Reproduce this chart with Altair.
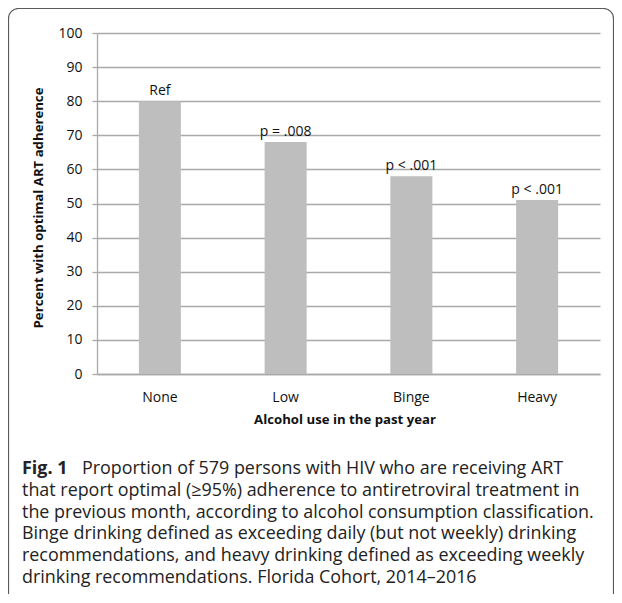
import altair as alt
import pandas as pd

# ---- data ----
categories = ["None", "Low", "Binge", "Heavy"]
percents = [80, 68, 58, 51]
p_labels = ["Ref", "p = .008", "p < .001", "p < .001"]
y_ticks = [0, 10, 20, 30, 40, 50, 60, 70, 80, 90, 100]

x_title = "Alcohol use in the past year"
y_title = "Percent with optimal ART adherence"
fig_label = "Fig. 1"
caption_first = "Proportion of 579 persons with HIV who are receiving ART"
caption_rest = [
    "that report optimal (\u226595%) adherence to antiretroviral treatment in",
    "the previous month, according to alcohol consumption classification.",
    "Binge drinking defined as exceeding daily (but not weekly) drinking",
    "recommendations, and heavy drinking defined as exceeding weekly",
    "drinking recommendations. Florida Cohort, 2014\u20132016",
]

df = pd.DataFrame({"cat": categories, "pct": percents, "lab": p_labels})

W, H = 503, 341
AX_FONT = "Open Sans"
CAP_FONT = "Open Sans"
CAP_SIZE = 17.9
LINE_H = 21.8
GRID = "#a9a9a9"

x_enc = alt.X(
    "cat:N", sort=categories,
    scale=alt.Scale(paddingInner=0.666, paddingOuter=0.333),
    axis=alt.Axis(
        title=x_title, labelAngle=0, ticks=False, tickSize=0, labelPadding=16,
        domainColor=GRID, domainWidth=1.3,
        labelFont=AX_FONT, labelFontSize=14, labelColor="#111111",
        titleFont=AX_FONT, titleFontSize=13.2, titleFontWeight="bold", titleColor="#111111",
        titleX=W / 2 - 4, titleY=45, titleBaseline="middle", titleAlign="center",
    ),
)
y_enc = alt.Y(
    "pct:Q",
    scale=alt.Scale(domain=[0, 100], nice=False),
    axis=alt.Axis(
        title=y_title, values=y_ticks, labelOverlap=False, grid=True, gridColor=GRID,
        gridWidth=1.3, domainColor=GRID, domainWidth=1.3, tickColor=GRID, tickWidth=1.3,
        tickSize=5, labelPadding=10, labelFont=AX_FONT, labelFontSize=14, labelColor="#111111",
        titleFont=AX_FONT, titleFontSize=13.2, titleFontWeight="bold", titleColor="#111111",
        titleAngle=-90, titleX=-59, titleY=H / 2 + 4, titleBaseline="middle", titleAlign="center",
    ),
)

bars = alt.Chart(df).mark_bar(color="#bebebf").encode(x=x_enc, y=y_enc)
labels = alt.Chart(df).mark_text(
    dy=-6, baseline="alphabetic", font=AX_FONT, fontSize=14, color="#111111"
).encode(x=x_enc, y=y_enc, text="lab:N")

frame = alt.Chart(pd.DataFrame({"k": [0]})).mark_rect(
    cornerRadius=10, fillOpacity=0, stroke="#5a5a5a", strokeWidth=1.2
).encode(
    x=alt.value(-88.5), x2=alt.value(516.5), y=alt.value(-24.5), y2=alt.value(620)
)

cap_x = -75
cap_y0 = 441
layers = [frame, bars, labels]
layers.append(
    alt.Chart(pd.DataFrame({"t": [fig_label]})).mark_text(
        align="left", baseline="alphabetic", font=CAP_FONT, fontSize=CAP_SIZE,
        fontWeight="bold", color="#222222"
    ).encode(text="t:N", x=alt.value(cap_x), y=alt.value(cap_y0))
)
layers.append(
    alt.Chart(pd.DataFrame({"t": [caption_first]})).mark_text(
        align="left", baseline="alphabetic", font=CAP_FONT, fontSize=CAP_SIZE,
        color="#222222"
    ).encode(text="t:N", x=alt.value(cap_x + 60), y=alt.value(cap_y0))
)
for i, line in enumerate(caption_rest):
    layers.append(
        alt.Chart(pd.DataFrame({"t": [line]})).mark_text(
            align="left", baseline="alphabetic", font=CAP_FONT, fontSize=CAP_SIZE,
            color="#222222"
        ).encode(text="t:N", x=alt.value(cap_x), y=alt.value(cap_y0 + LINE_H * (i + 1)))
    )

chart = alt.layer(*layers).properties(
    width=W, height=H,
    autosize=alt.AutoSizeParams(type="none"),
    padding={"left": 89, "top": 25, "right": 14, "bottom": 220},
    background="white",
).configure_view(strokeWidth=0)

chart.save("out.html", embed_options={"renderer": "svg", "actions": False})
